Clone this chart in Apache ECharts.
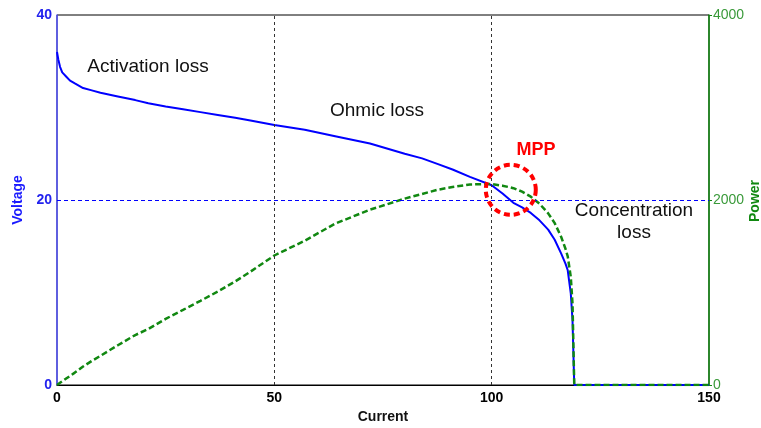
<!DOCTYPE html>
<html>
<head>
<meta charset="utf-8">
<script src="https://cdn.jsdelivr.net/npm/echarts@6/dist/echarts.min.js"></script>
<style>
  html, body { margin: 0; padding: 0; background: #fff; }
  #chart { width: 761px; height: 428px; }
</style>
</head>
<body>
<div id="chart"></div>
<script>
// values
const current = [0, 0.3, 0.7, 1.2, 2.2, 3, 4.1, 6, 8, 10, 14, 18, 21, 25, 29, 33, 37, 41, 44.5, 50, 57, 64, 72, 80, 84, 87.5, 91, 95, 100, 102.5, 105, 107, 109, 111, 113, 114.5, 116, 117, 117.5, 118.2, 118.6, 119, 150];
const voltage = [36, 35.2, 34.4, 33.8, 33.3, 32.9, 32.6, 32.1, 31.85, 31.6, 31.2, 30.8, 30.45, 30.1, 29.8, 29.5, 29.2, 28.9, 28.6, 28.1, 27.6, 26.9, 26.1, 25.0, 24.5, 23.9, 23.3, 22.5, 21.6, 20.7, 19.7, 19.2, 18.6, 17.8, 16.8, 15.7, 14.2, 13.1, 12.4, 9.9, 7.0, 0, 0];
const power = [0, 10, 24, 40, 73, 98, 134, 200, 260, 316, 430, 540, 605, 715, 812, 910, 1010, 1120, 1225, 1400, 1560, 1745, 1895, 2015, 2065, 2110, 2140, 2168, 2172, 2155, 2128, 2090, 2036, 1960, 1856, 1750, 1600, 1470, 1390, 1170, 880, 0, 0];
const xGridAt = [50, 100];
const vGridAt = 20;
const mpp = [104.4, 21.1];

const chart = echarts.init(document.getElementById('chart'));
const font = 'Liberation Sans, Arial, sans-serif';

chart.setOption({
  animation: false,
  grid: { left: 57, right: 52, top: 15, bottom: 43, outerBoundsMode: 'none', containLabel: false,
    show: true, borderColor: '#000', borderWidth: 1 },
  xAxis: {
    type: 'value', min: 0, max: 150, interval: 50,
    name: 'Current', nameLocation: 'middle', nameGap: 25,
    nameTextStyle: { color: '#111', fontWeight: 'bold', fontSize: 14, fontFamily: font },
    axisLine: { lineStyle: { color: '#000', width: 1 } },
    axisTick: { show: false },
    axisLabel: { color: '#000', fontWeight: 'bold', fontSize: 14, fontFamily: font, margin: 6 },
    splitLine: { show: false }
  },
  yAxis: [{
    type: 'value', min: 0, max: 40, interval: 20,
    name: 'Voltage', nameLocation: 'middle', nameGap: 31, nameRotate: 90,
    nameTextStyle: { color: '#1a1aff', fontWeight: 'bold', fontSize: 14, fontFamily: font },
    axisLine: { show: true, lineStyle: { color: '#5555ff', width: 1.5 } },
    axisTick: { show: false },
    axisLabel: { color: '#2222ee', fontWeight: 'bold', fontSize: 14, fontFamily: font, margin: 5 },
    splitLine: { show: false }
  }, {
    type: 'value', min: 0, max: 4000, interval: 2000, position: 'right',
    axisLine: { show: true, lineStyle: { color: '#118811', width: 1.5 } },
    axisTick: { show: true, length: 3, lineStyle: { color: '#118811' } },
    axisLabel: { color: '#3a9a3a', fontSize: 14, fontFamily: font, margin: 4, formatter: v => String(v) },
    splitLine: { show: false }
  }],
  series: [{
    type: 'line', yAxisIndex: 0, showSymbol: false, z: 3,
    data: current.map((c, i) => [c, voltage[i]]),
    lineStyle: { color: '#0000ff', width: 2 },
    markLine: {
      silent: true, symbol: 'none', label: { show: false }, animation: false,
      data: [
        { yAxis: vGridAt, lineStyle: { color: '#0000ff', type: [4, 3], width: 1 } },
        ...xGridAt.map(x => ({ xAxis: x, lineStyle: { color: '#333', type: [3, 3], width: 1 } }))
      ]
    }
  }, {
    type: 'line', yAxisIndex: 1, showSymbol: false, z: 4,
    data: current.map((c, i) => [c, power[i]]),
    lineStyle: { color: '#118811', width: 2.5, type: [6, 3] }
  }]
});

const c = chart.convertToPixel({ xAxisIndex: 0, yAxisIndex: 0 }, mpp);
const label = (x, y, text, extra) => ({
  type: 'text', x: x, y: y, z: 10,
  style: Object.assign({ text: text, fill: '#111', font: '19px ' + font, align: 'center', verticalAlign: 'middle' }, extra || {})
});

chart.setOption({
  graphic: [
    { type: 'circle', shape: { cx: c[0], cy: c[1], r: 25 }, z: 9,
      style: { fill: 'none', stroke: '#ff0000', lineWidth: 4, lineDash: [6, 4] } },
    label(148, 67, 'Activation loss'),
    label(377, 111, 'Ohmic loss'),
    label(536, 150, 'MPP', { fill: '#ff0000', font: 'bold 18px ' + font }),
    label(634, 211, 'Concentration'),
    label(634, 233, 'loss'),
    Object.assign(label(755, 201, 'Power', { fill: '#118811', font: 'bold 14px ' + font }), { rotation: Math.PI / 2 })
  ]
});
</script>
</body>
</html>
